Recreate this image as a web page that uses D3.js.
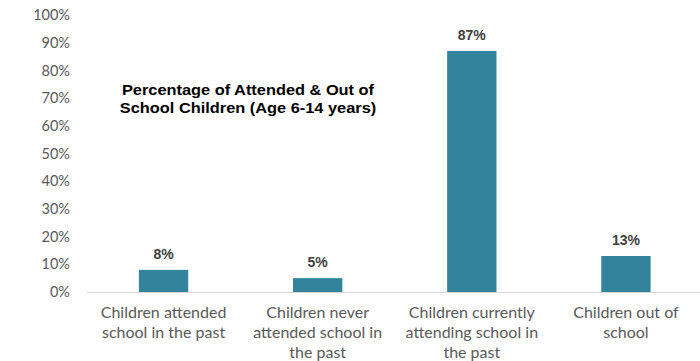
<!DOCTYPE html>
<html><head><meta charset="utf-8">
<script src="https://cdn.jsdelivr.net/npm/d3@7"></script>
<style>body{margin:0;background:#fff;}svg{display:block;}</style>
</head><body>
<svg id="chart" width="700" height="361"></svg>
<script>
const categories = [
  ["Children attended", "school in the past"],
  ["Children never", "attended school in", "the past"],
  ["Children currently", "attending school in", "the past"],
  ["Children out of", "school"]
];
const values = [8, 5, 87, 13];
const yTicks = [0, 10, 20, 30, 40, 50, 60, 70, 80, 90, 100];
const titleLines = ["Percentage of Attended & Out of", "School Children (Age 6-14 years)"];

const svg = d3.select("#chart");
const x = d3.scaleBand().domain(d3.range(values.length)).range([86.5, 703]).paddingInner(0.68).paddingOuter(0.34);
const y = d3.scaleLinear().domain([0, 100]).range([292, 15]);

// y tick labels
const yAxis = d3.axisLeft(y).tickValues(yTicks).tickFormat(d => d + "%").tickSize(0).tickPadding(0);
const ya = svg.append("g").attr("transform", "translate(70,0)").call(yAxis);
ya.select(".domain").remove();
ya.selectAll("text").attr("font-family", "Lato, 'Open Sans', sans-serif").attr("font-size", 14.5).attr("fill", "#595959");

// bars
svg.selectAll("rect.bar").data(values).enter().append("rect")
  .attr("class", "bar")
  .attr("x", (d, i) => x(i))
  .attr("width", x.bandwidth())
  .attr("y", d => y(d))
  .attr("height", d => y(0) - y(d))
  .attr("fill", "#31849b");

// baseline
svg.append("line").attr("x1", 87).attr("x2", 700).attr("y1", y(0) + 0.5).attr("y2", y(0) + 0.5)
  .attr("stroke", "#d9d9d9").attr("stroke-width", 1);

// value labels
svg.selectAll("text.val").data(values).enter().append("text")
  .attr("class", "val")
  .attr("x", (d, i) => x(i) + x.bandwidth() / 2)
  .attr("y", d => y(d) - 11)
  .attr("text-anchor", "middle")
  .attr("font-family", "'Liberation Sans', Arial, sans-serif")
  .attr("font-weight", "bold").attr("font-size", 14).attr("fill", "#404040")
  .text(d => d + "%");

// category labels
const cat = svg.selectAll("text.cat").data(categories).enter().append("text")
  .attr("class", "cat")
  .attr("text-anchor", "middle")
  .attr("font-family", "Lato, 'Open Sans', sans-serif")
  .attr("font-size", 16).attr("fill", "#595959");
cat.each(function(lines, i) {
  const t = d3.select(this);
  lines.forEach((l, j) => {
    t.append("tspan").attr("x", x(i) + x.bandwidth() / 2).attr("y", 318 + j * 20).text(l);
  });
});

// title (horizontally stretched as in the reference)
svg.append("g").attr("transform", "translate(248,0) scale(1.17,1)")
  .append("text").attr("text-anchor", "middle")
  .attr("font-family", "'Liberation Sans', Arial, sans-serif")
  .attr("font-weight", "bold").attr("font-size", 14).attr("fill", "#000")
  .selectAll("tspan").data(titleLines).enter().append("tspan")
  .attr("x", 0).attr("y", (d, i) => 95 + i * 18).text(d => d);
</script>
</body></html>
